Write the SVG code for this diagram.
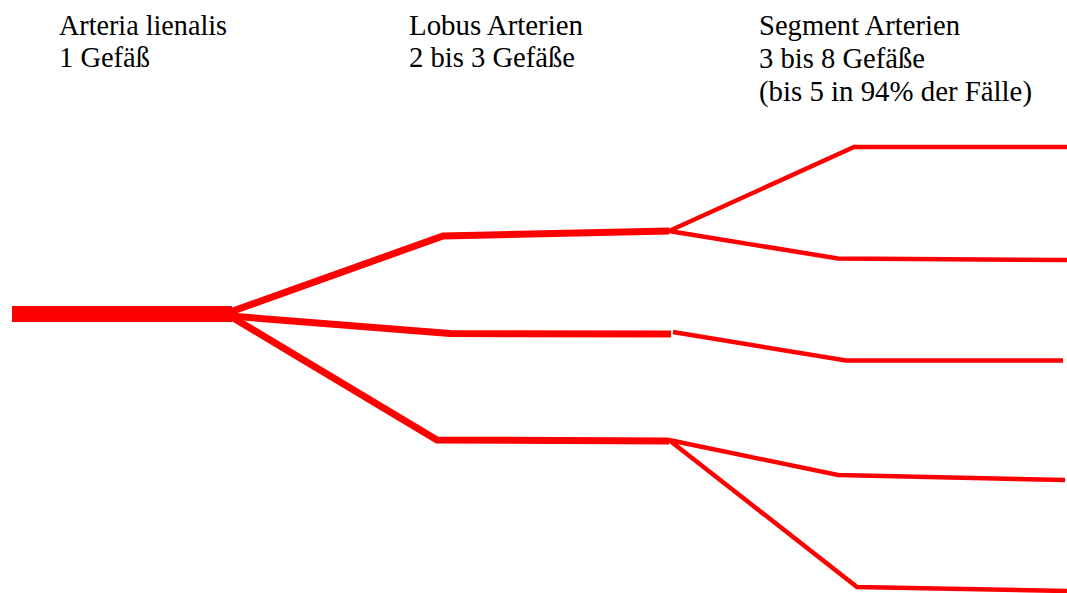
<svg xmlns="http://www.w3.org/2000/svg" width="1067" height="593" viewBox="0 0 1067 593">
<style>
text{font-family:'Liberation Serif','Times New Roman',Times,serif;font-size:29px;fill:#000}
.v{fill:none;stroke:#ff0000;stroke-linejoin:miter;stroke-linecap:butt}
.l{stroke-width:7}
.s{stroke-width:4.5}
</style>
<rect width="1067" height="593" fill="#fff"/>
<g id="label-arteria">
<text x="59" y="35" textLength="168" lengthAdjust="spacingAndGlyphs">Arteria lienalis</text>
<text x="59" y="67" textLength="91" lengthAdjust="spacingAndGlyphs">1 Gefäß</text>
</g>
<g id="label-lobus">
<text x="409" y="35" textLength="174" lengthAdjust="spacingAndGlyphs">Lobus Arterien</text>
<text x="409" y="67" textLength="166" lengthAdjust="spacingAndGlyphs">2 bis 3 Gefäße</text>
</g>
<g id="label-segment">
<text x="759" y="35" textLength="201" lengthAdjust="spacingAndGlyphs">Segment Arterien</text>
<text x="759" y="68" textLength="166" lengthAdjust="spacingAndGlyphs">3 bis 8 Gefäße</text>
<text x="759" y="101" textLength="273" lengthAdjust="spacingAndGlyphs">(bis 5 in 94% der Fälle)</text>
</g>
<g id="trunk">
<rect x="12" y="306" width="220" height="16" fill="#ff0000"/>
</g>
<g id="connectors">
<polyline class="v l" points="230,312 443,236 669,231"/>
<polyline class="v l" points="230,316 450,333.5 671,334"/>
<polyline class="v l" points="230,316 437,440 669,441"/>
<polyline class="v s" points="669,231 854,147 1067,147"/>
<polyline class="v s" points="669,231 838,258.5 1067,260"/>
<polyline class="v s" points="673,332 846,360.5 1063,360.5"/>
<polyline class="v s" points="669,440 838,475 1065,480"/>
<polyline class="v s" points="669,440 857,587 1067,591"/>
</g>
</svg>
